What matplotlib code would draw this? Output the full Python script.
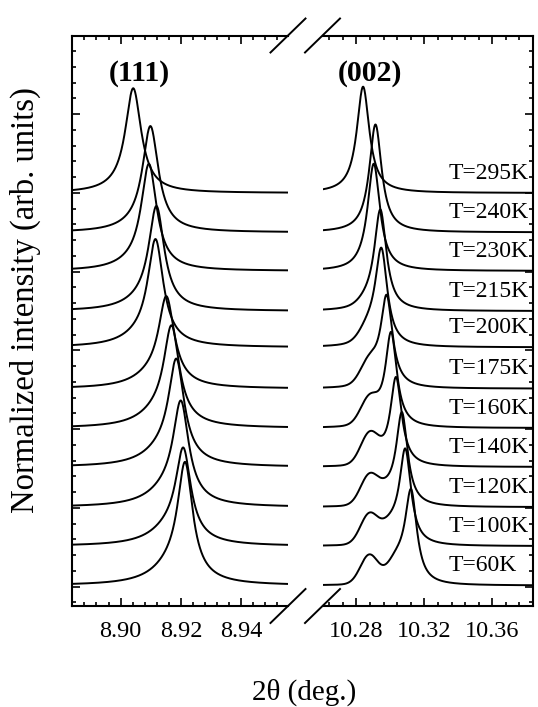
import numpy as np
import matplotlib.pyplot as plt
from matplotlib.ticker import MultipleLocator

plt.rcParams['font.family'] = ['Liberation Serif', 'DejaVu Serif']

# Temperatures (bottom to top) and vertical offsets of each scan
temps = [60, 100, 120, 140, 160, 175, 200, 215, 230, 240, 295]
baseline = [0.03, 1.03, 2.02, 3.04, 4.03, 5.03, 6.08, 7.00, 8.02, 9.00, 10.00]

# (111) reflection: main peak centre, height, half width; broad low-angle skirt
c111 = [8.9214, 8.9208, 8.9200, 8.9185, 8.9169, 8.9152, 8.9116, 8.9119, 8.9094, 8.9099, 8.9042]
h111 = [2.78, 2.17, 2.39, 2.45, 2.33, 2.11, 2.55, 2.51, 2.60, 2.62, 2.62]
w111 = [0.0030, 0.0030, 0.0031, 0.0031, 0.0031, 0.0031, 0.0031, 0.0031, 0.0031, 0.0032, 0.0032]
s111 = [0.45, 0.42, 0.40, 0.38, 0.35, 0.30, 0.25, 0.20, 0.15, 0.10, 0.05]

# (002) reflection: main peak centre, height, half width;
# low-angle hump at 10.2875 and pedestal under the main peak
c002 = [10.3122, 10.3088, 10.3068, 10.3033, 10.3004, 10.2978, 10.2947, 10.2941, 10.2902, 10.2912, 10.2839]
h002 = [2.30, 2.36, 2.33, 2.25, 2.40, 2.30, 2.40, 2.52, 2.68, 2.74, 2.70]
w002 = [0.0042, 0.0041, 0.0041, 0.0041, 0.0041, 0.0042, 0.0043, 0.0043, 0.0044, 0.0044, 0.0045]
hump002 = [0.72, 0.74, 0.72, 0.72, 0.60, 0.50, 0.30, 0.12, 0.05, 0.0, 0.0]
ped002 = [0.50, 0.40, 0.28, 0.10, 0.05, 0.05, 0.05, 0.03, 0.0, 0.0, 0.0]
hump_pos = 10.2875

xlim111 = (8.884, 8.9555)
xlim002 = (10.260, 10.384)


def lorentz(x, c, w):
    return 1.0 / (1.0 + ((x - c) / w) ** 2)


def gauss(x, c, s):
    return np.exp(-0.5 * ((x - c) / s) ** 2)


W, H = 538, 707
fig = plt.figure(figsize=(W / 100, H / 100), dpi=100)
bottom = (H - 606) / H
height = 570.5 / H
ax1 = fig.add_axes([72.3 / W, bottom, 215.7 / W, height])
ax2 = fig.add_axes([322.5 / W, bottom, 210.5 / W, height])

x1 = np.linspace(*xlim111, 900)
x2 = np.linspace(*xlim002, 900)
for i in range(len(temps)):
    y1 = (baseline[i] + h111[i] * lorentz(x1, c111[i], w111[i])
          + s111[i] * lorentz(x1, c111[i] - 0.004, 0.008))
    y2 = (baseline[i] + h002[i] * lorentz(x2, c002[i], w002[i])
          + hump002[i] * gauss(x2, hump_pos, 0.0052)
          + ped002[i] * gauss(x2, c002[i] - 0.0085, 0.0055))
    ax1.plot(x1, y1, color='black', lw=1.4)
    ax2.plot(x2, y2, color='black', lw=1.4)
    ax2.text(10.3345, baseline[i] + 0.5, f'T={temps[i]}K', fontsize=17,
             ha='left', va='center')

ylim = (-0.49, 14.0)
for ax, xl, maj, mn in ((ax1, xlim111, 0.02, 0.004), (ax2, xlim002, 0.04, 0.008)):
    ax.set_xlim(*xl)
    ax.set_ylim(*ylim)
    ax.xaxis.set_major_locator(MultipleLocator(maj))
    ax.xaxis.set_minor_locator(MultipleLocator(mn))
    ax.xaxis.set_major_formatter(plt.FormatStrFormatter('%.2f'))
    ax.yaxis.set_major_locator(MultipleLocator(2))
    ax.yaxis.set_minor_locator(MultipleLocator(0.4))
    ax.set_yticklabels([])
    for s in ax.spines.values():
        s.set_linewidth(1.5)
    ax.tick_params(which='both', direction='in', top=True, width=1.2,
                   labelsize=17.5, pad=10.5)
    ax.tick_params(which='major', length=6)
    ax.tick_params(which='minor', length=3.2)

ax1.spines['right'].set_visible(False)
ax1.tick_params(which='both', right=False, left=True)
ax2.spines['left'].set_visible(False)
ax2.tick_params(which='both', left=False, right=True, labelleft=False)

ax1.text(8.9063, 13.04, '(111)', fontsize=21.5, fontweight='bold', ha='center', va='center')
ax2.text(10.2877, 13.04, '(002)', fontsize=21.5, fontweight='bold', ha='center', va='center')

# Axis-break slashes
for ax, xa in ((ax1, 1.0), (ax2, 0.0)):
    bb = ax.get_position()
    dx = 17.5 / (bb.width * W)
    dy = 17.0 / (bb.height * H)
    for ya in (0.0, 1.0):
        ax.plot([xa - dx, xa + dx], [ya - dy, ya + dy], transform=ax.transAxes,
                color='black', lw=1.4, clip_on=False)

fig.text(25 / W, 1 - 300 / H, 'Normalized intensity (arb. units)', rotation=90,
         fontsize=23.5, ha='center', va='center')
fig.text(304 / W, 1 - 692 / H, '2θ (deg.)', fontsize=21, ha='center', va='center')

fig.savefig('out.png', dpi=100)
